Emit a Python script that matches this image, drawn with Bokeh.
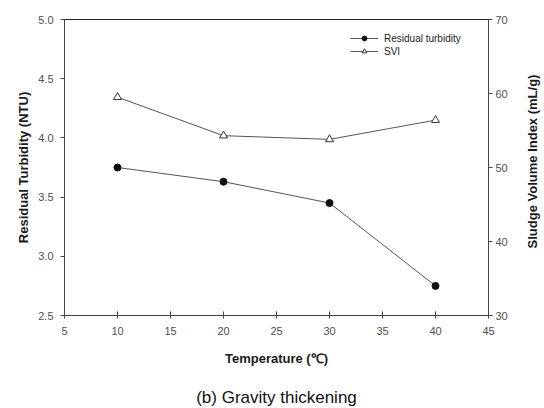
import math
from bokeh.plotting import figure
from bokeh.layouts import row, column
from bokeh.models import (Range1d, LinearAxis, FixedTicker, Legend, LegendItem,
                          Label, CustomJSTickFormatter)
from bokeh.embed import file_html
from bokeh.resources import INLINE

# Gravity thickening: residual turbidity and SVI versus temperature
temperature = [10, 20, 30, 40]
residual_turbidity = [3.75, 3.63, 3.45, 2.75]   # NTU
svi = [59.5, 54.3, 53.8, 56.4]                  # mL/g

x_ticks = [5, 10, 15, 20, 25, 30, 35, 40, 45]
left_ticks = [2.5, 3.0, 3.5, 4.0, 4.5, 5.0]
right_ticks = [30, 40, 50, 60, 70]

FONT = "Liberation Sans"
TICK_COLOR = "#505050"
TITLE_COLOR = "#1a1a1a"

MAIN_W, MAIN_H = 514, 378
SIDE_W = 544 - MAIN_W
CAP_H = 408 - MAIN_H

p = figure(width=MAIN_W, height=MAIN_H, output_backend="svg",
           toolbar_location=None,
           x_range=Range1d(5, 45), y_range=Range1d(2.5, 5.0),
           min_border_left=64, min_border_right=26,
           min_border_top=19, min_border_bottom=63)
p.extra_y_ranges = {"svi": Range1d(30, 70)}
p.xgrid.visible = False
p.ygrid.visible = False
p.outline_line_color = "#222222"
p.outline_line_width = 1
p.background_fill_color = "white"
p.border_fill_color = "white"


def style_axis(ax, ticks, tick_in, tick_out, standoff, label, label_standoff):
    ax.ticker = FixedTicker(ticks=ticks)
    ax.minor_tick_line_color = None
    ax.major_tick_in = tick_in
    ax.major_tick_out = tick_out
    ax.major_tick_line_color = "#444444"
    ax.axis_line_color = "#444444"
    ax.major_label_standoff = standoff
    ax.major_label_text_font = FONT
    ax.major_label_text_font_size = "11px"
    ax.major_label_text_color = TICK_COLOR
    ax.axis_label = label
    ax.axis_label_text_font = FONT
    ax.axis_label_text_font_size = "13px"
    ax.axis_label_text_font_style = "bold"
    ax.axis_label_text_color = TITLE_COLOR
    ax.axis_label_standoff = label_standoff


xaxis = p.xaxis[0]
style_axis(xaxis, x_ticks, 4, 3, 8, "Temperature (℃)", 13)
xaxis.formatter.use_scientific = False

yaxis = p.yaxis[0]
style_axis(yaxis, left_ticks, 0, 4, 7, "Residual Turbidity (NTU)", 4)
yaxis.formatter = CustomJSTickFormatter(code="return tick.toFixed(1);")

raxis = LinearAxis(y_range_name="svi")
style_axis(raxis, right_ticks, 0, 4, 3, None, 0)
p.add_layout(raxis, "right")

# Series
turb_line = p.line(temperature, residual_turbidity, line_color="#555555",
                   line_width=1)
turb_pts = p.scatter(temperature, residual_turbidity, marker="circle", size=7,
                     fill_color="#111111", line_color="#111111")

svi_line = p.line(temperature, svi, y_range_name="svi", line_color="#555555",
                  line_width=1)
svi_pts = p.scatter(temperature, svi, y_range_name="svi", marker="triangle",
                    size=8, fill_color="white", line_color="#333333",
                    line_width=1)

legend = Legend(items=[
    LegendItem(label="Residual turbidity", renderers=[turb_line, turb_pts]),
    LegendItem(label="SVI", renderers=[svi_line, svi_pts]),
], location=(286, 258))
legend.label_text_font = FONT
legend.label_text_font_size = "10px"
legend.label_text_color = "#222222"
legend.glyph_width = 28
legend.glyph_height = 12
legend.label_height = 12
legend.label_standoff = 6
legend.spacing = 1
legend.padding = 0
legend.margin = 0
legend.border_line_alpha = 0
legend.background_fill_alpha = 0
p.add_layout(legend)


def blank_panel(width, height):
    f = figure(width=width, height=height, output_backend="svg",
               toolbar_location=None, x_axis_type=None, y_axis_type=None,
               x_range=Range1d(0, 1), y_range=Range1d(0, 1),
               min_border=0)
    f.grid.visible = False
    f.outline_line_color = None
    f.background_fill_color = "white"
    f.border_fill_color = "white"
    return f


# Right-hand axis title, reading bottom-to-top
side = blank_panel(SIDE_W, MAIN_H)
side.add_layout(Label(x=18, y=154, x_units="screen", y_units="screen",
                      text="Sludge Volume Index (mL/g)", angle=math.pi / 2,
                      text_align="center", text_baseline="middle",
                      text_font=FONT, text_font_size="13px",
                      text_font_style="bold", text_color=TITLE_COLOR))

# Panel caption under the chart
cap = blank_panel(544, CAP_H)
cap.add_layout(Label(x=276, y=11, x_units="screen", y_units="screen",
                     text="(b) Gravity thickening",
                     text_align="center", text_baseline="middle",
                     text_font=FONT, text_font_size="17px",
                     text_color="#111111"))

layout = column(row(p, side, spacing=0), cap, spacing=0)

open("out.html", "w").write(file_html(layout, INLINE))
